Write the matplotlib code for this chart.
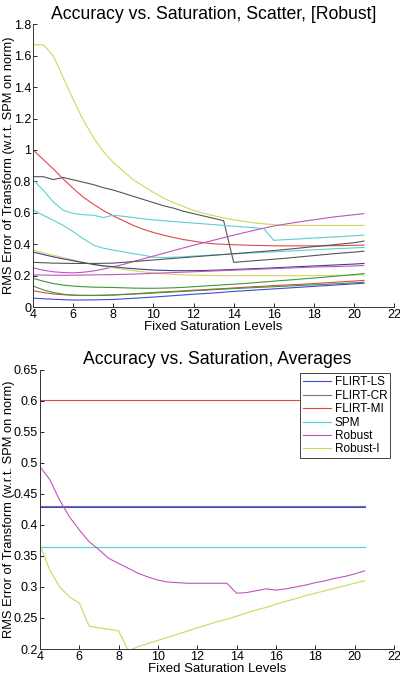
import matplotlib.pyplot as plt
import numpy as np

plt.rcParams['font.family'] = ['Liberation Sans', 'DejaVu Sans']

# fine grid (step 0.5) and coarse grid for the scatter panel
x_fine = [4, 4.5, 5, 5.5, 6, 6.5, 7, 7.5, 8, 8.5, 9, 9.5, 10, 10.5, 11, 11.5, 12,
          12.5, 13, 13.5, 14, 14.5, 15, 15.5, 16, 16.5, 17, 17.5, 18, 18.5, 19,
          19.5, 20, 20.5]
x_coarse = [4, 5, 6, 7, 8, 9, 10, 11, 12, 13, 14, 15, 16, 17, 18, 19, 20, 20.5]

# --- top panel: per-subject curves ---
yellow_a = [1.67, 1.67, 1.60, 1.46, 1.32, 1.19, 1.08, 0.99, 0.92, 0.865, 0.81, 0.77,
            0.73, 0.695, 0.665, 0.64, 0.615, 0.597, 0.582, 0.568, 0.556, 0.546, 0.537,
            0.53, 0.525, 0.52, 0.52, 0.52, 0.52, 0.52, 0.52, 0.52, 0.52, 0.52]
red_a = [1.0, 0.94, 0.88, 0.815, 0.755, 0.70, 0.655, 0.615, 0.58, 0.55, 0.52, 0.495,
         0.475, 0.458, 0.443, 0.43, 0.42, 0.41, 0.403, 0.40, 0.397, 0.395, 0.393,
         0.392, 0.39, 0.39, 0.39, 0.39, 0.39, 0.39, 0.391, 0.392, 0.393, 0.395]
gray_a = [0.83, 0.83, 0.812, 0.825, 0.81, 0.795, 0.78, 0.76, 0.745, 0.725, 0.705,
          0.685, 0.665, 0.645, 0.63, 0.61, 0.595, 0.58, 0.565, 0.55, 0.285, 0.29,
          0.295, 0.30, 0.305, 0.31, 0.316, 0.322, 0.328, 0.334, 0.34, 0.345, 0.35, 0.356]
cyan_a = [0.81, 0.745, 0.67, 0.617, 0.596, 0.588, 0.585, 0.57, 0.585, 0.578, 0.57,
          0.562, 0.555, 0.55, 0.545, 0.54, 0.535, 0.53, 0.525, 0.52, 0.515, 0.51,
          0.505, 0.50, 0.425, 0.429, 0.432, 0.436, 0.44, 0.443, 0.447, 0.45, 0.454, 0.458]
cyan_b = [0.617, 0.585, 0.553, 0.52, 0.48, 0.435, 0.395, 0.375, 0.363, 0.352, 0.34,
          0.33, 0.318, 0.315, 0.318, 0.32, 0.325, 0.328, 0.332, 0.335, 0.338, 0.342,
          0.346, 0.349, 0.352, 0.355, 0.358, 0.362, 0.365, 0.368, 0.371, 0.374, 0.377, 0.38]
magenta_a = [0.25, 0.235, 0.225, 0.22, 0.218, 0.222, 0.23, 0.242, 0.257, 0.272, 0.29,
             0.307, 0.325, 0.342, 0.36, 0.377, 0.394, 0.41, 0.426, 0.442, 0.458, 0.473,
             0.488, 0.502, 0.516, 0.527, 0.537, 0.547, 0.556, 0.565, 0.574, 0.581, 0.588, 0.595]
yellow_b = [0.363, 0.345, 0.33, 0.315, 0.30, 0.285, 0.27, 0.26, 0.25, 0.24, 0.232,
            0.224, 0.217, 0.212, 0.208, 0.205, 0.203, 0.202, 0.201, 0.2, 0.2, 0.2,
            0.2, 0.2, 0.2, 0.2, 0.2, 0.2, 0.2, 0.201, 0.202, 0.203, 0.204, 0.205]
navy_a = [0.35, 0.335, 0.32, 0.307, 0.295, 0.283, 0.272, 0.263, 0.257, 0.25, 0.245,
          0.24, 0.236, 0.234, 0.232, 0.232, 0.232, 0.233, 0.235, 0.237, 0.24, 0.242,
          0.245, 0.247, 0.25, 0.253, 0.256, 0.259, 0.262, 0.265, 0.268, 0.271, 0.274, 0.278]
green_a = [0.183, 0.165, 0.15, 0.14, 0.134, 0.13, 0.127, 0.126, 0.125, 0.123, 0.121,
           0.12, 0.12, 0.121, 0.123, 0.126, 0.13, 0.134, 0.138, 0.142, 0.146, 0.15,
           0.155, 0.16, 0.165, 0.17, 0.175, 0.18, 0.185, 0.19, 0.196, 0.201, 0.207, 0.214]
red_b = [0.104, 0.093, 0.084, 0.079, 0.076, 0.075, 0.075, 0.076, 0.078, 0.081, 0.085,
         0.089, 0.093, 0.097, 0.10, 0.104, 0.108, 0.111, 0.115, 0.118, 0.122, 0.126,
         0.13, 0.133, 0.137, 0.14, 0.143, 0.146, 0.15, 0.154, 0.158, 0.162, 0.166, 0.17]
green_b = [0.134, 0.11, 0.093, 0.082, 0.076, 0.074, 0.074, 0.075, 0.077, 0.08, 0.083,
           0.086, 0.09, 0.093, 0.097, 0.10, 0.104, 0.107, 0.111, 0.114, 0.118, 0.121,
           0.124, 0.127, 0.13, 0.133, 0.136, 0.139, 0.142, 0.145, 0.148, 0.151, 0.155, 0.158]

gray_b = [0.285, 0.28, 0.278, 0.278, 0.28, 0.29, 0.30, 0.31, 0.32, 0.33, 0.34, 0.35,
          0.36, 0.372, 0.385, 0.397, 0.41, 0.42]
magenta_b = [0.205, 0.203, 0.203, 0.205, 0.207, 0.21, 0.215, 0.22, 0.225, 0.23, 0.235,
             0.24, 0.245, 0.25, 0.255, 0.258, 0.262, 0.265]
blue_b = [0.057, 0.05, 0.045, 0.046, 0.049, 0.056, 0.064, 0.073, 0.082, 0.09, 0.10,
          0.108, 0.116, 0.124, 0.132, 0.14, 0.148, 0.152]

# --- bottom panel: averages ---
methods = ["FLIRT-LS", "FLIRT-CR", "FLIRT-MI", "SPM", "Robust", "Robust-I"]
x_avg = [4, 20.5]
flirt_ls = [0.4295, 0.4295]
flirt_cr = [0.4310, 0.4310]
flirt_mi = [0.6015, 0.6015]
spm = [0.364, 0.364]
robust = [0.494, 0.473, 0.44, 0.413, 0.392, 0.373, 0.36, 0.346, 0.338, 0.33, 0.322,
          0.316, 0.311, 0.308, 0.307, 0.306, 0.306, 0.306, 0.306, 0.306, 0.29, 0.291,
          0.294, 0.297, 0.295, 0.297, 0.30, 0.303, 0.307, 0.31, 0.314, 0.317, 0.321, 0.326]
robust_i = [0.368, 0.327, 0.30, 0.284, 0.274, 0.237, 0.234, 0.232, 0.229, 0.197, 0.204,
            0.209, 0.214, 0.219, 0.224, 0.229, 0.234, 0.239, 0.244, 0.248, 0.253, 0.258,
            0.263, 0.267, 0.272, 0.277, 0.281, 0.286, 0.29, 0.294, 0.298, 0.302, 0.306, 0.31]

c_blue = "#4048d8"
c_navy = "#404088"
c_gray = "#555555"
c_red = "#e04848"
c_cyan = "#5cd0d0"
c_magenta = "#c055c0"
c_yellow = "#d4d45a"
c_green = "#3a9a3a"

lw = 0.8


def style_axes(ax):
    for side in ["top", "right"]:
        ax.spines[side].set_visible(False)
    for side in ["left", "bottom"]:
        ax.spines[side].set_linewidth(0.7)
        ax.spines[side].set_color("#333333")
    ax.tick_params(direction="in", length=3, width=0.6, labelsize=9, pad=1.5,
                   top=False, right=False)
    ax.set_xlim(4, 22)
    ax.set_xticks(np.arange(4, 23, 2))
    ax.yaxis.set_major_formatter(plt.FormatStrFormatter("%g"))
    ax.set_xlabel("Fixed Saturation Levels", fontsize=9.5, labelpad=0)
    ax.set_ylabel("RMS Error of Transform (w.r.t. SPM on norm)", fontsize=9.3)


fig = plt.figure(figsize=(4, 6.75), dpi=100)

ax1 = fig.add_axes([0.083, 0.545, 0.902, 0.419])
fine = [(yellow_a, c_yellow), (red_a, c_red), (gray_a, c_gray), (cyan_a, c_cyan),
        (cyan_b, c_cyan), (magenta_a, c_magenta), (yellow_b, c_yellow),
        (navy_a, c_navy), (green_a, c_green), (red_b, c_red), (green_b, c_green)]
for ys, c in fine:
    ax1.plot(x_fine, ys, color=c, lw=lw)
coarse = [(gray_b, c_gray), (magenta_b, c_magenta), (blue_b, c_blue)]
for ys, c in coarse:
    ax1.plot(x_coarse, ys, color=c, lw=lw)
style_axes(ax1)
ax1.set_ylim(0, 1.8)
ax1.set_yticks(np.arange(0, 1.81, 0.2))
ax1.set_title("Accuracy vs. Saturation, Scatter, [Robust]", fontsize=12.7, pad=4)
ax1.yaxis.set_label_coords(0.038, 0.5 * (0.545 + 0.964), transform=fig.transFigure)

ax2 = fig.add_axes([0.1, 0.0385, 0.885, 0.4135])
ax2.plot(x_avg, flirt_cr, color="#707888", lw=lw, label=methods[1])
ax2.plot(x_avg, flirt_ls, color=c_blue, lw=lw, label=methods[0])
ax2.plot(x_avg, flirt_mi, color=c_red, lw=lw, label=methods[2])
ax2.plot(x_avg, spm, color=c_cyan, lw=0.9, label=methods[3])
ax2.plot(x_fine, robust, color=c_magenta, lw=lw, label=methods[4])
ax2.plot(x_fine, robust_i, color=c_yellow, lw=lw, label=methods[5])
style_axes(ax2)
ax2.set_ylim(0.2, 0.65)
ax2.set_yticks(np.arange(0.2, 0.651, 0.05))
ax2.set_title("Accuracy vs. Saturation, Averages", fontsize=12.7, pad=4)
ax2.yaxis.set_label_coords(0.038, 0.0385 + 0.5 * 0.4135, transform=fig.transFigure)
handles, labels = ax2.get_legend_handles_labels()
order = [1, 0, 2, 3, 4, 5]
leg = ax2.legend([handles[i] for i in order], [labels[i] for i in order],
                 loc="upper right", fontsize=8.5, fancybox=False, framealpha=1,
                 edgecolor="#444444", handlelength=2.4, handletextpad=0.3,
                 labelspacing=0.12, borderpad=0.25, borderaxespad=0.3)
leg.get_frame().set_linewidth(0.7)

fig.savefig("out.png", dpi=100)
